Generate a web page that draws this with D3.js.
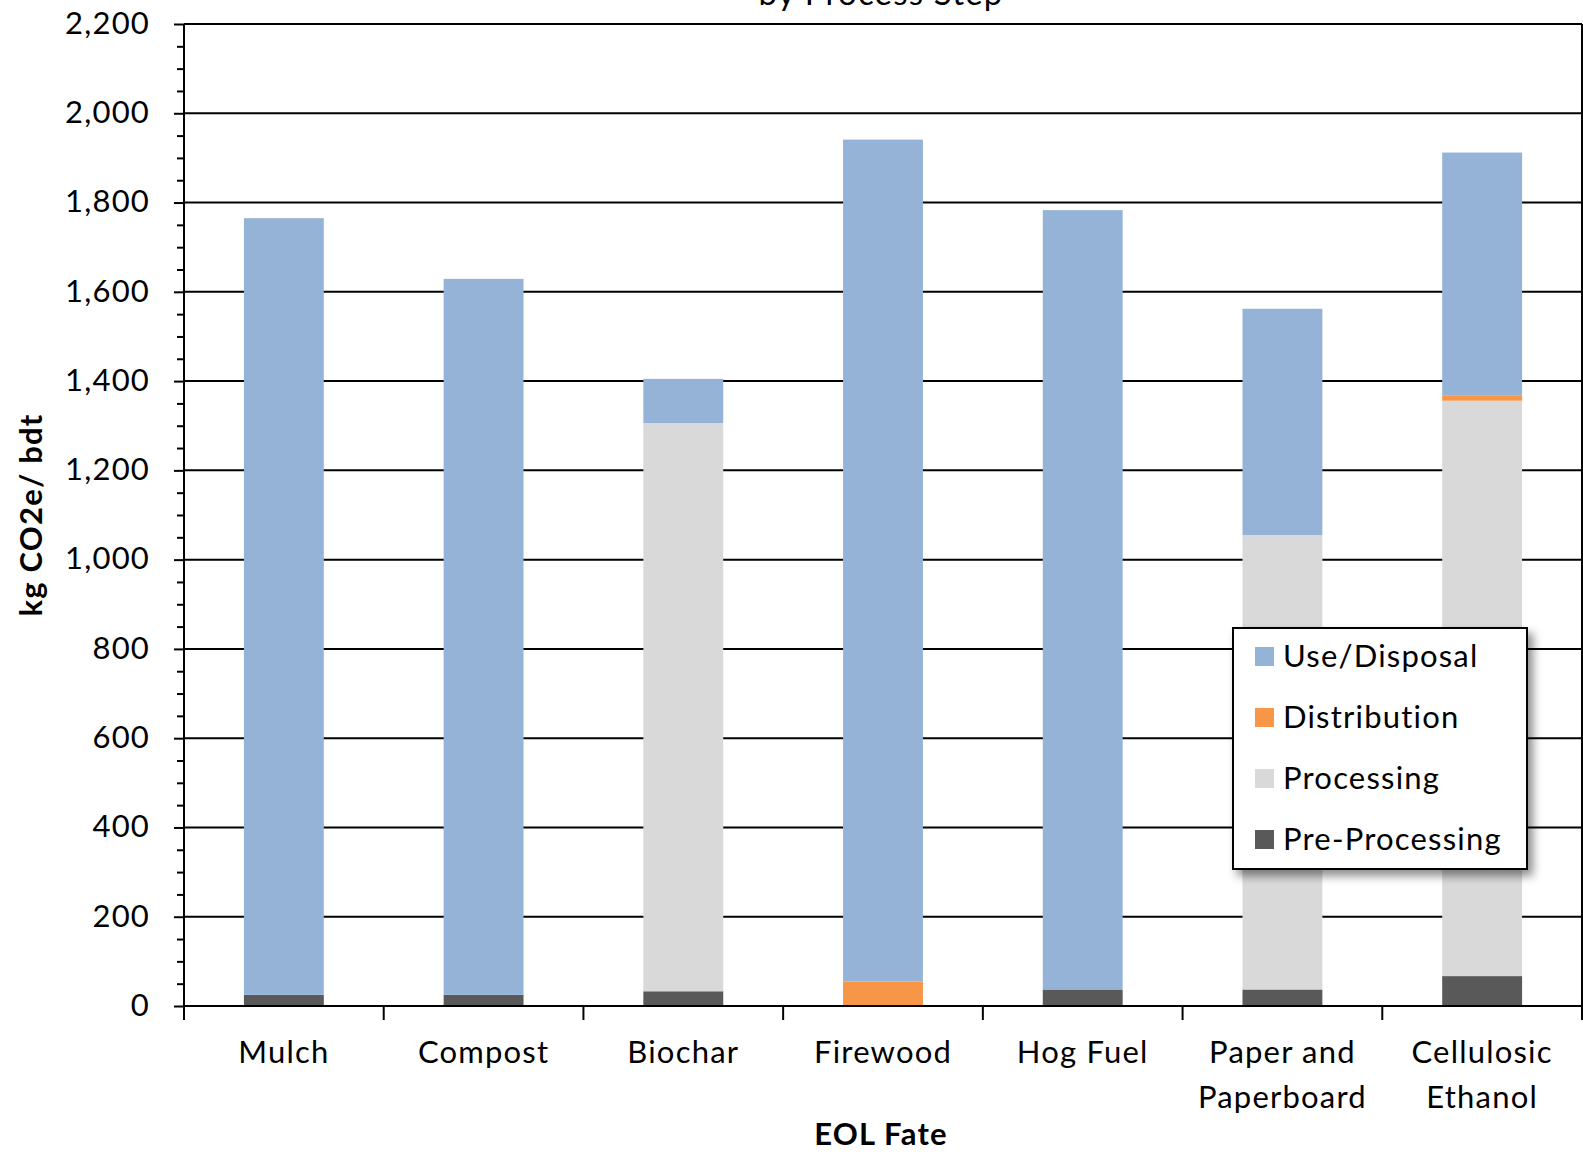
<!DOCTYPE html>
<html>
<head>
<meta charset="utf-8">
<script src="https://cdn.jsdelivr.net/npm/d3@7"></script>
<style>
  html, body { margin: 0; padding: 0; background: #fff; }
  svg { display: block; }
  text { font-family: Lato, "Noto Sans", sans-serif; fill: #000; letter-spacing: 1.2px; }
</style>
</head>
<body>
<svg id="chart" width="1583" height="1152"></svg>
<script>
// End-of-life fates on the category axis
const categories = ["Mulch", "Compost", "Biochar", "Firewood", "Hog Fuel", "Paper and Paperboard", "Cellulosic Ethanol"];
const categoryLines = [["Mulch"], ["Compost"], ["Biochar"], ["Firewood"], ["Hog Fuel"], ["Paper and", "Paperboard"], ["Cellulosic", "Ethanol"]];

// Emissions by process step, kg CO2e per bone-dry ton (stacked bottom to top)
const preProcessing = [25, 25, 33, 0, 37, 37, 67];
const processing    = [0, 0, 1273, 0, 0, 1018, 1289];
const distribution  = [0, 0, 0, 55, 0, 0, 11];
const useDisposal   = [1740, 1604, 99, 1886, 1746, 507, 545];

const seriesNames = ["Pre-Processing", "Processing", "Distribution", "Use/Disposal"];
const seriesColors = ["#595959", "#d9d9d9", "#f79646", "#95b3d7"];
const legendOrder = ["Use/Disposal", "Distribution", "Processing", "Pre-Processing"];

const yTicks = [0, 200, 400, 600, 800, 1000, 1200, 1400, 1600, 1800, 2000, 2200];

const svg = d3.select("#chart");
const plotL = 184, plotR = 1582, plotT = 24, plotB = 1006;

const x = d3.scaleBand().domain(categories).range([plotL, plotR]).paddingInner(0.6).paddingOuter(0.3);
const xb = d3.scaleBand().domain(categories).range([plotL, plotR]).padding(0);
const y = d3.scaleLinear().domain([0, 2200]).range([plotB, plotT]);

const rows = categories.map((c, i) => ({
  cat: c,
  "Pre-Processing": preProcessing[i],
  "Processing": processing[i],
  "Distribution": distribution[i],
  "Use/Disposal": useDisposal[i]
}));
const stacked = d3.stack().keys(seriesNames)(rows);
const color = d3.scaleOrdinal().domain(seriesNames).range(seriesColors);

// Horizontal gridlines
svg.append("g")
  .selectAll("line")
  .data(yTicks.filter(t => t > 0))
  .join("line")
  .attr("x1", plotL).attr("x2", plotR)
  .attr("y1", d => y(d)).attr("y2", d => y(d))
  .attr("stroke", "#000").attr("stroke-width", 2);

// Right border of the plot area
svg.append("line")
  .attr("x1", plotR).attr("x2", plotR).attr("y1", plotT).attr("y2", plotB)
  .attr("stroke", "#000").attr("stroke-width", 2);

// Stacked bars
svg.append("g")
  .selectAll("g")
  .data(stacked)
  .join("g")
  .attr("fill", d => color(d.key))
  .selectAll("rect")
  .data(d => d)
  .join("rect")
  .attr("x", d => x(d.data.cat))
  .attr("width", x.bandwidth())
  .attr("y", d => y(d[1]))
  .attr("height", d => y(d[0]) - y(d[1]));

// Y axis with major and minor ticks
const yMinor = d3.range(0, 2201, 50).filter(v => v % 200 !== 0);
svg.append("g")
  .attr("transform", `translate(${plotL},0)`)
  .call(d3.axisLeft(y).tickValues(yMinor).tickSize(7).tickFormat(""))
  .call(g => g.select(".domain").remove())
  .call(g => g.selectAll("line").attr("stroke", "#000").attr("stroke-width", 2));

const yAxis = svg.append("g")
  .attr("transform", `translate(${plotL},0)`)
  .call(d3.axisLeft(y).tickValues(yTicks).tickSize(10).tickPadding(24).tickFormat(d3.format(",")))
  .call(g => g.select(".domain").attr("stroke", "#000").attr("stroke-width", 2).attr("d", `M0,${plotT}V${plotB + 14}`))
  .call(g => g.selectAll("line").attr("stroke", "#000").attr("stroke-width", 2));
yAxis.selectAll("text")
  .attr("font-size", 31)
  .attr("dy", "0.3em")
  .style("font-family", "Lato, 'Noto Sans', sans-serif")
  .attr("fill", "#000");

// X axis baseline and category boundary ticks
svg.append("line")
  .attr("x1", plotL).attr("x2", plotR).attr("y1", plotB).attr("y2", plotB)
  .attr("stroke", "#000").attr("stroke-width", 2);
svg.append("g")
  .selectAll("line")
  .data(categories.map(c => xb(c)).concat([plotR]))
  .join("line")
  .attr("x1", d => d).attr("x2", d => d)
  .attr("y1", plotB).attr("y2", plotB + 14)
  .attr("stroke", "#000").attr("stroke-width", 2);

// Category labels
const catLabels = svg.append("g")
  .selectAll("text")
  .data(categories)
  .join("text")
  .attr("x", d => xb(d) + xb.bandwidth() / 2)
  .attr("y", 1063)
  .attr("text-anchor", "middle")
  .attr("font-size", 31);
catLabels.selectAll("tspan")
  .data((d, i) => categoryLines[i])
  .join("tspan")
  .attr("x", function() { return this.parentNode.getAttribute("x"); })
  .attr("dy", (d, i) => i === 0 ? 0 : 45)
  .text(d => d);

// Axis titles
svg.append("text")
  .attr("x", 881)
  .attr("y", 1145)
  .attr("text-anchor", "middle")
  .attr("font-size", 31)
  .attr("font-weight", "bold")
  .text("EOL Fate");

svg.append("text")
  .attr("transform", "translate(42,515) rotate(-90)")
  .attr("text-anchor", "middle")
  .attr("font-size", 31)
  .attr("font-weight", "bold")
  .text("kg CO2e/ bdt");

// Chart title (second line sits at the top edge)
svg.append("text")
  .attr("x", 881)
  .attr("y", 5)
  .attr("text-anchor", "middle")
  .attr("font-size", 33)
  .attr("fill", "#1f1f3f")
  .text("by Process Step");

// Legend with drop shadow
const defs = svg.append("defs");
const f = defs.append("filter").attr("id", "shadow").attr("x", "-10%").attr("y", "-10%").attr("width", "130%").attr("height", "130%");
f.append("feDropShadow").attr("dx", 5).attr("dy", 6).attr("stdDeviation", 5).attr("flood-color", "#000").attr("flood-opacity", 0.45);

const lg = svg.append("g").attr("transform", "translate(1233,628)");
lg.append("rect")
  .attr("width", 294).attr("height", 241)
  .attr("fill", "#fff").attr("stroke", "#000").attr("stroke-width", 2)
  .attr("filter", "url(#shadow)");
const items = lg.selectAll("g.item")
  .data(legendOrder)
  .join("g")
  .attr("class", "item")
  .attr("transform", (d, i) => `translate(0,${28 + i * 61})`);
items.append("rect")
  .attr("x", 22).attr("y", -9).attr("width", 19).attr("height", 19)
  .attr("fill", d => color(d));
items.append("text")
  .attr("x", 50).attr("y", 0).attr("dy", "0.36em")
  .attr("font-size", 31)
  .text(d => d);
</script>
</body>
</html>
